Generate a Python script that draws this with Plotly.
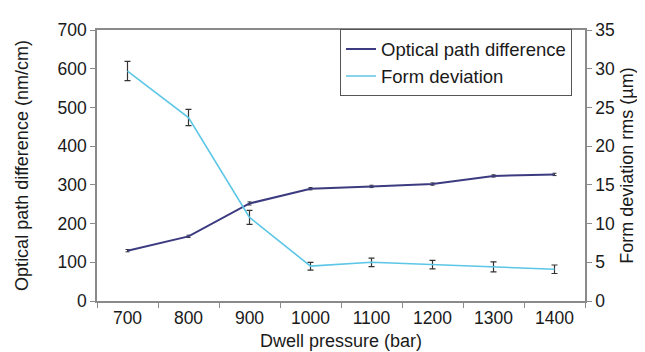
import plotly.graph_objects as go

pressure = ["700", "800", "900", "1000", "1100", "1200", "1300", "1400"]
opd = [130, 167, 252, 290, 296, 302, 323, 327]
opd_err = [3, 3, 4, 3, 3, 3, 3, 3]
form_dev = [29.7, 23.7, 10.8, 4.5, 5.0, 4.7, 4.4, 4.1]
form_err = [1.25, 1.05, 0.9, 0.5, 0.55, 0.55, 0.65, 0.55]

axis_col = "#8a8a8a"
font = "Liberation Sans, Arial, sans-serif"

fig = go.Figure()
fig.add_trace(go.Scatter(
    x=pressure, y=opd, name="Optical path difference", mode="lines",
    line=dict(color="#3d3b80", width=2),
    error_y=dict(type="data", array=opd_err, color="#333333", thickness=1, width=2),
))
fig.add_trace(go.Scatter(
    x=pressure, y=form_dev, name="Form deviation", mode="lines", yaxis="y2",
    line=dict(color="#5cc6e6", width=1.6),
    error_y=dict(type="data", array=form_err, color="#333333", thickness=1.2, width=3),
))

fig.update_layout(
    width=645, height=352,
    margin=dict(l=89, r=68, t=18, b=58),
    paper_bgcolor="white", plot_bgcolor="white",
    font=dict(family=font, size=17.5, color="#1a1a1a"),
    showlegend=True,
    legend=dict(x=0.498, y=1.002, xanchor="left", yanchor="top",
                bgcolor="white", bordercolor="#555555", borderwidth=1,
                font=dict(size=18.5), tracegroupgap=0, itemwidth=30),
    xaxis=dict(type="category", range=[-0.5, 7.5], showline=True, linecolor=axis_col,
               linewidth=1.5, mirror=True, ticks="outside", tickson="boundaries",
               ticklen=5, tickcolor=axis_col, showgrid=False,
               title=dict(text="Dwell pressure (bar)", standoff=8, font=dict(size=18))),
    yaxis=dict(range=[0, 700], dtick=100, showline=True, linecolor=axis_col, linewidth=1.5,
               ticks="outside", ticklen=5, tickcolor=axis_col, showgrid=False, zeroline=False,
               title=dict(text="Optical path difference (nm/cm)", standoff=24, font=dict(size=18))),
    yaxis2=dict(range=[0, 35], dtick=5, overlaying="y", side="right", showline=True,
                linecolor=axis_col, linewidth=1.5, ticks="outside", ticklen=5,
                tickcolor=axis_col, showgrid=False, zeroline=False,
                title=dict(text="Form deviation rms (µm)", standoff=6, font=dict(size=18))),
)

fig.write_html("out.html")
